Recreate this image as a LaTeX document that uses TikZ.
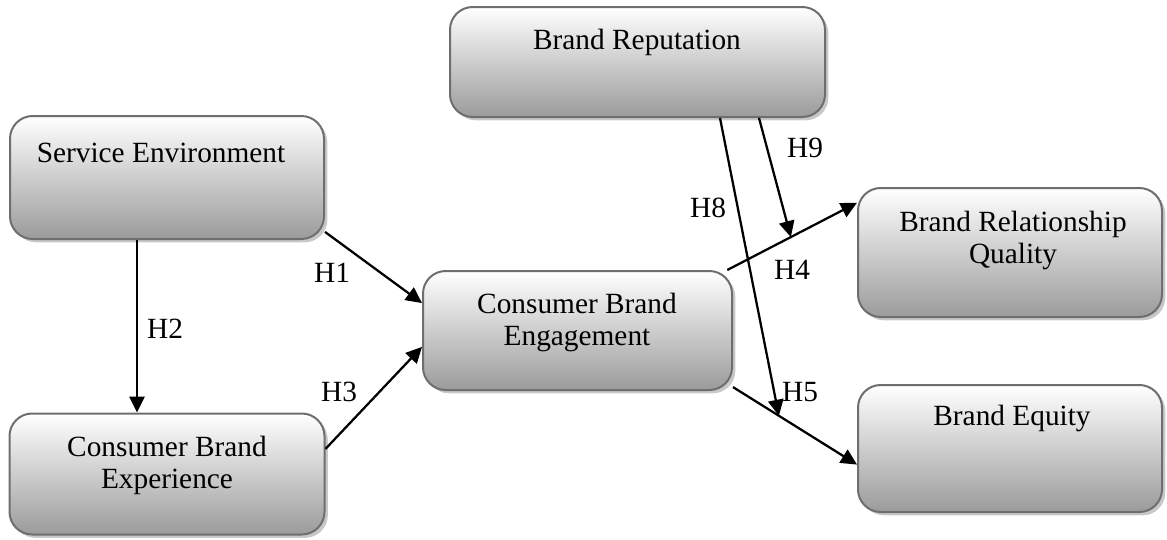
\documentclass[tikz,border=0pt]{standalone}
\usepackage{fontspec}
\setmainfont{Liberation Serif}
\usetikzlibrary{arrows.meta,calc,shadows}
\definecolor{boxedge}{RGB}{110,110,110}
\definecolor{boxbot}{RGB}{155,155,155}
\definecolor{shadowc}{RGB}{200,200,200}
\begin{document}
\begin{tikzpicture}[x=0.75pt,y=-0.75pt,
 box/.style={draw=boxedge, line width=1.5pt, rounded corners=17pt, top color=white, bottom color=boxbot,
   drop shadow={shadow xshift=2.5pt, shadow yshift=-2.5pt, fill=shadowc, opacity=1}, inner sep=0pt},
 txt/.style={font=\fontsize{22}{24}\selectfont, align=center, inner sep=0pt},
 hyp/.style={font=\fontsize{22}{24}\selectfont, inner sep=0pt},
 link/.style={line width=1.7pt, -{Triangle[length=12pt,width=11.5pt]}}]
\useasboundingbox (0,0) rectangle (1167,539);
% boxes
\node[box, minimum width=235.5pt, minimum height=92.25pt] (se) at (167,177.5) {};
\node[box, minimum width=236.25pt, minimum height=90.75pt] (cbx) at (167,474) {};
\node[box, minimum width=231.75pt, minimum height=89.25pt] (cbe) at (577.5,330.5) {};
\node[box, minimum width=281.25pt, minimum height=82.5pt] (br) at (637.5,62) {};
\node[box, minimum width=228pt, minimum height=96.75pt] (brq) at (1010,252.5) {};
\node[box, minimum width=228pt, minimum height=95.25pt] (be) at (1010,448.5) {};
% texts
\node[txt] (tse) at (161,153) {Service Environment};
\node[txt] (tcbx) at (167,465) {Consumer Brand\\Experience};
\node[txt] (tcbe) at (577,322) {Consumer Brand\\Engagement};
\node[txt] (tbr) at (637,42) {Brand Reputation};
\node[txt] (tbrq) at (1013,240) {Brand Relationship\\Quality};
\node[txt] (tbe) at (1012,418) {Brand Equity};
% connectors
\draw[link] (se.-19) -- (cbe.170);
\draw[link] ($(se.south)+(-30,0)$) -- ($(cbx.north)+(-30,0)$);
\draw[link] (cbx.9) -- (cbe.186);
\draw[link] (cbe.22) -- coordinate[pos=0.49] (p4) (brq.162);
\draw[link] (cbe.-20) -- coordinate[pos=0.37] (p5) (be.186);
\draw[link] ($(br.south)+(82.5,0)$) -- (p5);
\draw[link] ($(br.south)+(121.5,0)$) -- (p4);
% labels
\node[hyp] (h1) at (332,273) {H1};
\node[hyp] (h2) at (165,329) {H2};
\node[hyp] (h3) at (339,392) {H3};
\node[hyp] (h4) at (792,270) {H4};
\node[hyp] (h5) at (800,392) {H5};
\node[hyp] (h8) at (708,208) {H8};
\node[hyp] (h9) at (805,148) {H9};
\end{tikzpicture}
\end{document}
